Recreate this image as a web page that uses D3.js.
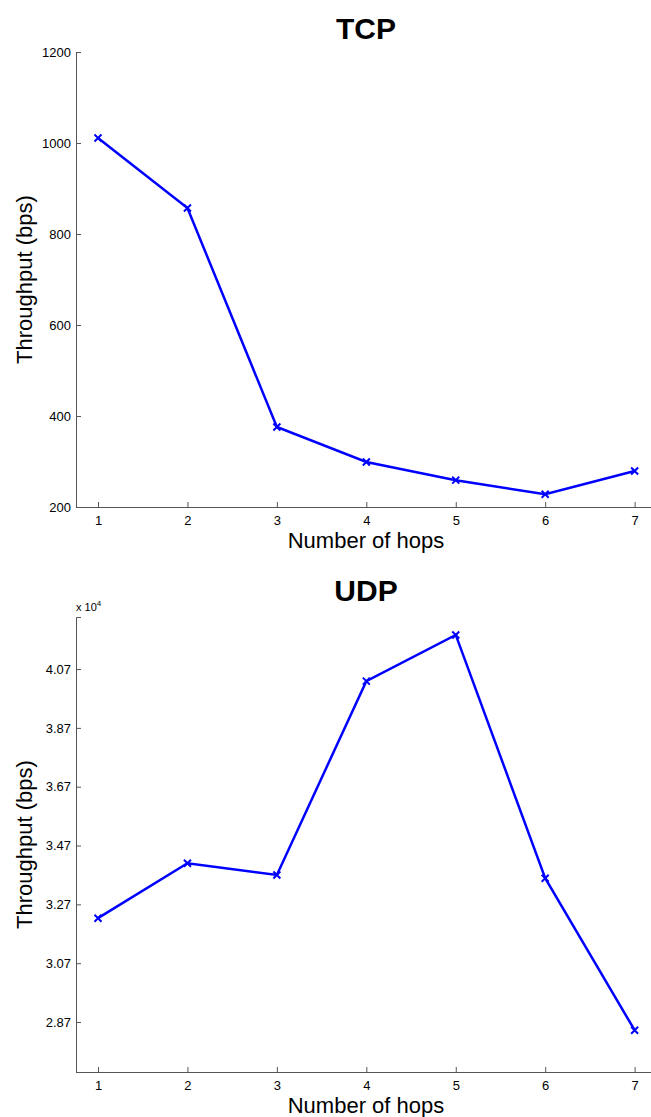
<!DOCTYPE html>
<html>
<head>
<meta charset="utf-8">
<script src="https://cdn.jsdelivr.net/npm/d3@7"></script>
<style>
  body { margin: 0; background: #fff; }
  svg { display: block; font-family: "Liberation Sans", Arial, sans-serif; }
</style>
</head>
<body>
<svg width="651" height="1117"></svg>
<script>
// Data
const hops = [1, 2, 3, 4, 5, 6, 7];
const tcpThroughput = [1011, 857, 376, 299, 259, 228, 279];
const udpThroughput = [32230, 34100, 33700, 40290, 41860, 33590, 28420];
const tcpTicks = [200, 400, 600, 800, 1000, 1200];
const udpTicks = [28700, 30700, 32700, 34700, 36700, 38700, 40700];

const svg = d3.select("svg");
const blue = "#0000ff";
const axisColor = "#555";

function drawPanel(opts) {
  const { title, values, yDomain, yTicks, yFormat, top, bottom, titleY, expLabel } = opts;
  const left = 76;

  const x = d3.scaleLinear().domain([0.754, 7.25]).range([left, 657]);
  const y = d3.scaleLinear().domain(yDomain).range([bottom, top]);

  const g = svg.append("g");

  // axes (MATLAB style, ticks inward, box off)
  const xAxis = g.append("g")
    .attr("transform", `translate(0,${bottom})`)
    .call(d3.axisBottom(x).tickValues(hops).tickSize(-5).tickPadding(9).tickFormat(d3.format("d")));
  const yAxis = g.append("g")
    .attr("transform", `translate(${left},0)`)
    .call(d3.axisLeft(y).tickValues(yTicks).tickSize(-5).tickPadding(5).tickFormat(yFormat));

  [xAxis, yAxis].forEach(a => {
    a.select(".domain").attr("stroke", axisColor).attr("stroke-width", 1);
    a.selectAll(".tick line").attr("stroke", axisColor);
    a.selectAll("text").attr("fill", "#000").attr("font-size", 13)
      .attr("font-family", "Liberation Sans, Arial, sans-serif");
  });

  // line
  const line = d3.line().x((d, i) => x(hops[i])).y(d => y(d));
  g.append("path")
    .datum(values)
    .attr("fill", "none")
    .attr("stroke", blue)
    .attr("stroke-width", 2.5)
    .attr("d", line);

  // x markers
  const s = 3.5;
  g.selectAll(".mk")
    .data(values)
    .join("path")
    .attr("d", (d, i) => {
      const cx = x(hops[i]), cy = y(d);
      return `M${cx - s},${cy - s}L${cx + s},${cy + s}M${cx - s},${cy + s}L${cx + s},${cy - s}`;
    })
    .attr("stroke", blue)
    .attr("stroke-width", 2);

  // title
  g.append("text")
    .attr("x", 366).attr("y", titleY)
    .attr("text-anchor", "middle")
    .attr("font-size", 30).attr("font-weight", "bold")
    .text(title);

  // axis labels
  g.append("text")
    .attr("x", 366).attr("y", bottom + 41)
    .attr("text-anchor", "middle")
    .attr("font-size", 22)
    .text("Number of hops");
  g.append("text")
    .attr("transform", `translate(32,${(top + bottom) / 2}) rotate(-90)`)
    .attr("text-anchor", "middle")
    .attr("font-size", 22)
    .text("Throughput (bps)");

  if (expLabel) {
    const t = g.append("text").attr("x", 76).attr("y", top - 6).attr("font-size", 11);
    t.append("tspan").text("x 10");
    t.append("tspan").attr("dy", -5).attr("font-size", 8).text("4");
  }
}

drawPanel({
  title: "TCP",
  values: tcpThroughput,
  yDomain: [200, 1200],
  yTicks: tcpTicks,
  yFormat: d3.format("d"),
  top: 52, bottom: 507,
  titleY: 39
});

drawPanel({
  title: "UDP",
  values: udpThroughput,
  yDomain: [27000, 42470],
  yTicks: udpTicks,
  yFormat: d => (d / 10000).toFixed(2),
  top: 617, bottom: 1072,
  titleY: 601,
  expLabel: true
});
</script>
</body>
</html>
